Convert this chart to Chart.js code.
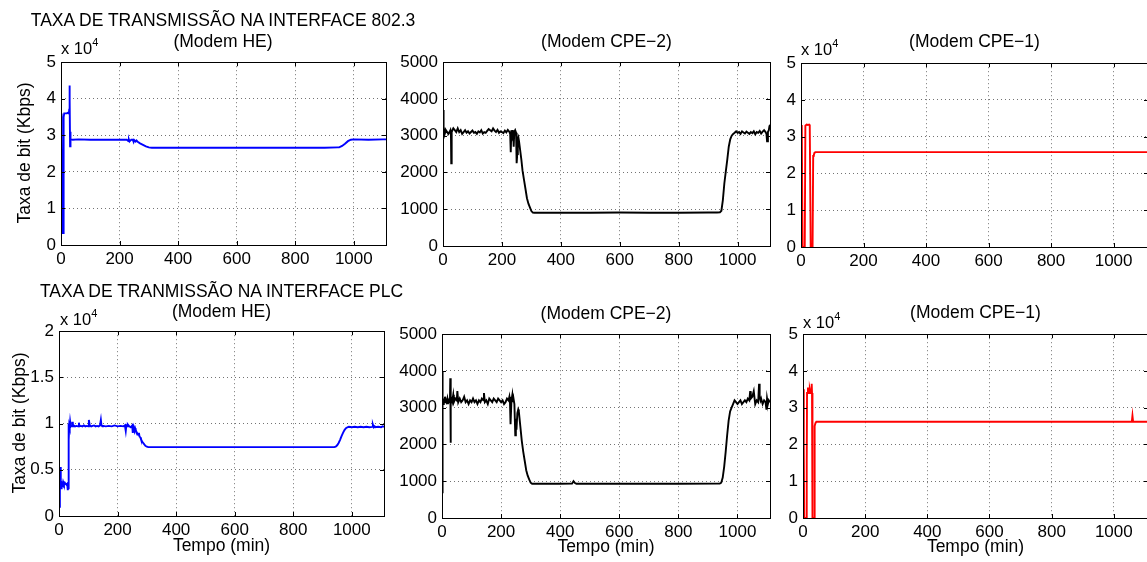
<!DOCTYPE html>
<html>
<head>
<meta charset="utf-8">
<script src="https://cdn.jsdelivr.net/npm/chart.js@4.4.1/dist/chart.umd.min.js"></script>
<style>
  html, body { margin: 0; padding: 0; background: #fff; overflow: hidden; }
  body { width: 1147px; height: 562px; position: relative; }
  canvas { position: absolute; }
  svg { position: absolute; left: 0; top: 0; pointer-events: none; }
</style>
</head>
<body>
<canvas id="c1"></canvas>
<canvas id="c2"></canvas>
<canvas id="c3"></canvas>
<canvas id="c4"></canvas>
<canvas id="c5"></canvas>
<canvas id="c6"></canvas>

<svg width="1147" height="562">
  <g font-family="'Liberation Sans', Arial, Helvetica, sans-serif" font-size="17.5" fill="#000">
    <text x="223" y="26" text-anchor="middle">TAXA DE TRANSMISSÃO NA INTERFACE 802.3</text>
    <text x="223" y="47" text-anchor="middle">(Modem HE)</text>
    <text x="606.5" y="47" text-anchor="middle">(Modem CPE−2)</text>
    <text x="974.5" y="47" text-anchor="middle">(Modem CPE−1)</text>

    <text x="221.5" y="297" text-anchor="middle">TAXA DE TRANMISSÃO NA INTERFACE PLC</text>
    <text x="221.5" y="317" text-anchor="middle">(Modem HE)</text>
    <text x="606" y="319" text-anchor="middle">(Modem CPE−2)</text>
    <text x="975.5" y="318" text-anchor="middle">(Modem CPE−1)</text>

    <text transform="translate(30,153) rotate(-90)" text-anchor="middle">Taxa de bit (Kbps)</text>
    <text transform="translate(25,423) rotate(-90)" text-anchor="middle">Taxa de bit (Kbps)</text>

    <text x="221.5" y="551" text-anchor="middle">Tempo (min)</text>
    <text x="606" y="552" text-anchor="middle">Tempo (min)</text>
    <text x="975.5" y="552" text-anchor="middle">Tempo (min)</text>

    <text x="61" y="54" font-size="16.5">x 10<tspan dy="-8" font-size="11">4</tspan></text>
    <text x="801" y="55" font-size="16.5">x 10<tspan dy="-8" font-size="11">4</tspan></text>
    <text x="60" y="325" font-size="16.5">x 10<tspan dy="-8" font-size="11">4</tspan></text>
    <text x="803" y="328" font-size="16.5">x 10<tspan dy="-8" font-size="11">4</tspan></text>
  </g>
</svg>

<script>
// ---- dados: interface 802.3 ----
const tempoHE8023 = [0,1,3,5,7,9,11,
  16,20,24,27,28,29,30,31,32,33,35,
  40,60,100,150,200,225,230,232,234,
  240,245,248,250,255,258,262,270,280,290,300,310,
  350,500,700,900,945,950,960,970,980,990,1000,1050,1100,1110];
const taxaHE8023 = [35000,36000,30000,3300,3300,35000,36000,
  36000,36000,36200,36000,37000,43600,40000,27000,31000,28900,28900,
  28800,28900,28800,28800,28800,28800,28400,28800,28300,
  28800,28800,28200,28700,28300,28600,28200,27800,27400,27000,26700,26600,
  26600,26600,26600,26600,26700,26700,27100,27700,28400,28800,28900,28800,28900,28900];

const tempoCPE2_8023 = [0,1,2,3,4,6,8,10,14,18,
  22,25,27,28,29,30,32,35,40,45,
  50,55,60,65,70,75,80,85,90,95,
  100,105,110,115,120,125,130,135,140,145,
  150,155,160,165,170,175,180,185,190,195,
  200,205,210,215,220,225,228,230,232,235,
  238,240,242,245,248,250,252,254,256,258,
  262,266,270,275,280,285,290,295,300,305,
  310,400,500,600,700,800,900,930,940,945,
  950,955,960,965,970,975,980,985,990,995,
  1000,1005,1010,1015,1020,1025,1030,1035,1040,1045,
  1050,1055,1060,1065,1070,1075,1080,1085,1090,1095,
  1098,1100,1103,1106,1108,1110];
const taxaCPE2_8023 = [3050,3700,3500,3100,3150,3050,3100,3150,3100,3050,
  3100,3150,3000,2250,2600,3100,3150,3200,3150,3100,
  3200,3100,3150,3050,3100,3150,3080,3120,3060,3100,
  3140,3080,3100,3050,3120,3090,3150,3060,3100,3080,
  3130,3180,3150,3120,3200,3140,3100,3160,3080,3120,
  3100,3070,3140,3090,3160,3110,3050,2550,3150,3000,
  3150,2700,3100,3150,3080,2250,2500,2900,2950,2850,
  2600,2350,2050,1800,1550,1300,1150,1050,950,910,
  905,905,905,910,905,905,910,910,915,960,
  1250,1700,2030,2350,2700,2900,3000,3050,3080,3120,
  3080,3100,3050,3120,3090,3060,3110,3080,3050,3100,
  3070,3120,3040,3100,3080,3130,3060,3110,3150,3100,
  3050,2850,3100,3150,3250,3300];

const tempoCPE1_8023 = [0,2,3,5,12,14,18,22,26,28,
  31,37,39,41,43,46,100,300,600,900,1110];
const taxaCPE1_8023 = [33000,33200,33000,0,0,33000,33300,33200,33300,33000,
  0,0,24800,25000,25600,25800,25800,25800,25800,25800,25800];

// ---- dados: interface PLC ----
const tempoHEPLC = [0,3,5,6,7,8,10,12,14,17,
  20,22,25,28,30,31,32,33,
  34,35,36,37,38,40,42,45,47,48,
  50,55,60,65,68,70,75,80,85,90,
  95,100,102,105,110,115,120,125,130,135,
  140,143,145,148,150,160,170,180,190,200,
  210,220,225,228,230,233,235,240,245,250,
  252,255,258,260,262,265,270,273,275,278,
  280,285,290,295,300,305,400,600,800,940,
  945,950,955,960,965,970,975,980,985,990,
  1000,1010,1020,1030,1040,1050,1060,1070,1072,1075,
  1078,1080,1090,1100,1105,1110];
const taxaHEPLC = [1000,3000,5300,3000,3500,2900,3600,3400,3700,3400,
  3600,3500,3400,3500,2800,3000,9000,10000,
  8200,9800,10100,9600,10200,9700,9800,9700,10200,9700,
  9800,9700,9750,9700,10100,9700,9750,9700,9800,9700,
  9750,9700,10400,9800,9700,9750,9800,9700,9750,9700,
  9800,10400,9800,9700,9750,9700,9750,9700,9800,9700,
  9750,9700,9800,9200,9800,9700,9900,9700,9600,9800,
  9000,9600,9200,9500,9300,9100,8800,9000,8600,8500,
  8300,8000,7800,7600,7500,7450,7450,7450,7450,7450,
  7500,7650,7900,8250,8650,9000,9300,9500,9600,9650,
  9600,9650,9600,9650,9600,9650,9600,9650,9900,9600,
  9700,9600,9650,9600,9700,9650];

const tempoCPE2PLC = [0,1,2,3,4,6,8,10,12,15,
  18,20,22,25,27,28,29,30,31,33,
  35,38,40,45,50,52,55,60,65,70,
  75,80,85,90,95,100,105,110,115,120,
  125,130,135,140,142,145,150,155,160,165,
  170,175,180,185,190,195,200,205,210,215,
  220,225,228,230,232,235,238,240,242,245,
  248,250,252,255,258,260,265,270,275,280,
  285,290,295,300,305,350,400,440,445,450,
  455,600,800,930,940,945,950,955,960,965,
  970,975,980,985,990,995,1000,1005,1010,1015,
  1020,1025,1030,1035,1040,1043,1045,1050,1055,1060,
  1065,1070,1073,1075,1078,1080,1085,1090,1095,1098,
  1100,1103,1106,1110];
const taxaCPE2PLC = [700,4000,3400,3200,3100,3250,3150,3300,3200,3150,
  3250,3100,3200,3150,3250,3800,2050,3200,3150,3300,
  3200,3350,3150,3250,3200,3450,3150,3250,3150,3200,
  3300,3150,3200,3100,3200,3150,3250,3150,3200,3100,
  3200,3150,3250,3200,3400,3150,3200,3100,3250,3200,
  3150,3250,3200,3150,3250,3200,3150,3200,3100,3150,
  3250,3200,3300,3150,2550,3200,3350,3150,3250,3100,
  2250,2700,2400,2850,2950,2900,2500,2100,1800,1550,
  1300,1150,1050,960,930,930,930,935,1000,950,
  930,930,930,935,935,960,1100,1400,1800,2250,
  2650,2900,3000,3100,3200,3150,3100,3150,3200,3100,
  3150,3200,3150,3250,3200,3450,3250,3300,3450,3100,
  3200,3150,3650,3300,3200,3250,3100,3200,3150,2950,
  3250,3100,3200,3150];

const tempoCPE1PLC = [0,2,3,4,10,12,13,16,18,20,
  22,24,26,28,29,30,31,36,37,38,
  40,43,100,500,1000,1058,1060,1062,1110];
const taxaCPE1PLC = [35000,34800,20000,0,0,15000,34000,35500,34000,34000,
  35000,34200,34000,36500,34000,20000,0,0,15000,25000,
  25800,26200,26200,26200,26200,26200,27800,26200,26200];

// ---- rótulos de eixo ----
const ticksTempo = [0, 200, 400, 600, 800, 1000];
const tempoMax = 1110;

// ---- layout ----
const AXW = 56, PADT = 14, PADR = 8, AXH = 30;
const FONTE = "'Liberation Sans', Arial, Helvetica, sans-serif";

// moldura + marcas internas estilo matlab
const moldura = {
  id: 'moldura',
  afterDraw(chart) {
    const { ctx, chartArea: a, scales } = chart;
    ctx.save();
    ctx.strokeStyle = '#000';
    ctx.lineWidth = 1;
    ctx.beginPath();
    scales.x.ticks.forEach(t => {
      const px = Math.round(scales.x.getPixelForValue(t.value)) + 0.5;
      ctx.moveTo(px, a.bottom); ctx.lineTo(px, a.bottom - 4);
      ctx.moveTo(px, a.top); ctx.lineTo(px, a.top + 4);
    });
    scales.y.ticks.forEach(t => {
      const py = Math.round(scales.y.getPixelForValue(t.value)) + 0.5;
      ctx.moveTo(a.left, py); ctx.lineTo(a.left + 4, py);
      ctx.moveTo(a.right, py); ctx.lineTo(a.right - 4, py);
    });
    ctx.stroke();
    ctx.strokeRect(Math.round(a.left) + 0.5, Math.round(a.top) + 0.5,
                   Math.round(a.right - a.left), Math.round(a.bottom - a.top));
    ctx.restore();
  }
};

function painel(id, area, tempo, taxa, cor, yMax, yStep, yDiv) {
  const cv = document.getElementById(id);
  const w = area[2] - area[0] + AXW + PADR;
  const h = area[3] - area[1] + PADT + AXH;
  cv.width = w; cv.height = h;
  cv.style.width = w + 'px'; cv.style.height = h + 'px';
  cv.style.left = (area[0] - AXW) + 'px';
  cv.style.top = (area[1] - PADT) + 'px';

  const grade = { color: 'rgba(0,0,0,0.55)', lineWidth: 1, drawTicks: false };
  const borda = { display: false, dash: [1, 3] };
  const fonte = { family: FONTE, size: 17 };

  return new Chart(cv, {
    type: 'line',
    data: {
      datasets: [{
        data: tempo.map((t, i) => ({ x: t, y: taxa[i] })),
        borderColor: cor,
        borderWidth: 1.9,
        pointRadius: 0,
        tension: 0,
        fill: false
      }]
    },
    options: {
      responsive: false,
      animation: false,
      devicePixelRatio: 1,
      layout: { padding: { top: PADT, right: PADR, left: 0, bottom: 0 } },
      plugins: { legend: { display: false }, tooltip: { enabled: false }, title: { display: false } },
      scales: {
        x: {
          type: 'linear', min: 0, max: tempoMax,
          afterBuildTicks: s => { s.ticks = ticksTempo.map(v => ({ value: v })); },
          ticks: { autoSkip: false, maxRotation: 0, padding: 4, color: '#000', font: fonte,
                   callback: v => String(v) },
          grid: grade, border: borda,
          afterFit: s => { s.height = AXH; }
        },
        y: {
          type: 'linear', min: 0, max: yMax,
          ticks: { stepSize: yStep, padding: 5, color: '#000', font: fonte,
                   callback: v => String(v / yDiv) },
          grid: grade, border: borda,
          afterFit: s => { s.width = AXW; }
        }
      }
    },
    plugins: [moldura]
  });
}

painel('c1', [61, 61, 386, 245], tempoHE8023, taxaHE8023, '#0000ff', 50000, 10000, 10000);
painel('c2', [443, 61, 770, 246], tempoCPE2_8023, taxaCPE2_8023, '#000000', 5000, 1000, 1);
painel('c3', [801, 62, 1148, 247], tempoCPE1_8023, taxaCPE1_8023, '#ff0000', 50000, 10000, 10000);
painel('c4', [59, 330, 384, 516], tempoHEPLC, taxaHEPLC, '#0000ff', 20000, 5000, 10000);
painel('c5', [442, 333, 770, 518], tempoCPE2PLC, taxaCPE2PLC, '#000000', 5000, 1000, 1);
painel('c6', [803, 333, 1148, 518], tempoCPE1PLC, taxaCPE1PLC, '#ff0000', 50000, 10000, 10000);
</script>
</body>
</html>
